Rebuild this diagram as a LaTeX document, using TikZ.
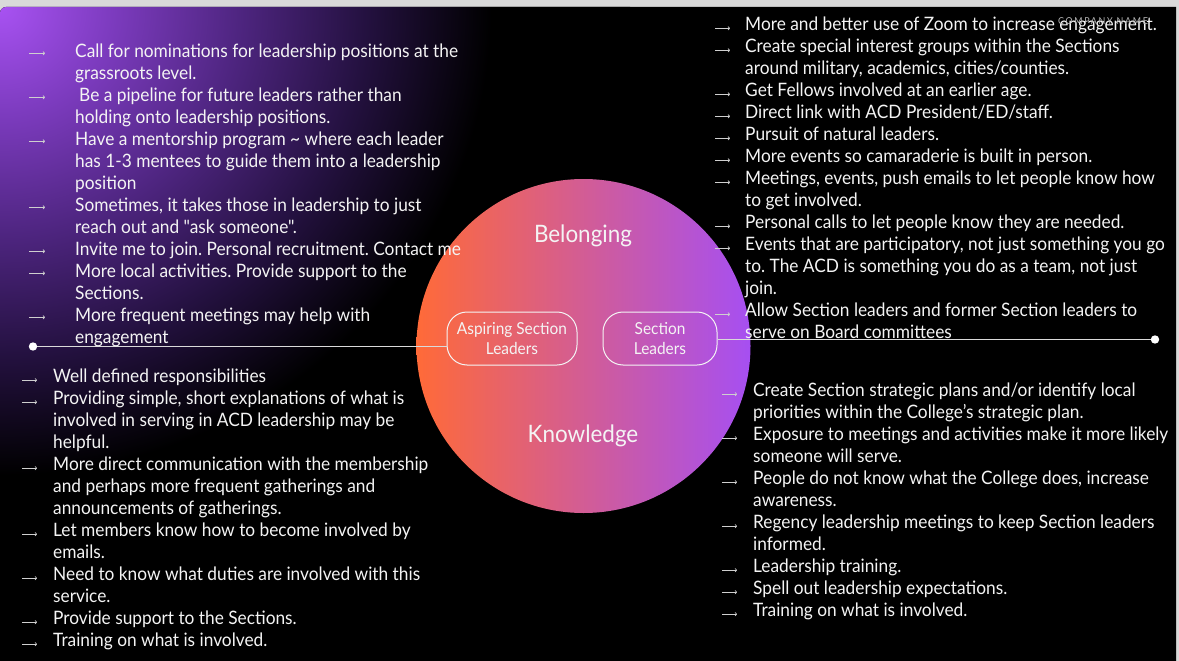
\documentclass[tikz,border=0pt]{standalone}
\usepackage{fontspec}
\setmainfont{Lato}[FakeStretch=0.935, Ligatures=TeXOff]
\frenchspacing
\usetikzlibrary{arrows.meta}
\definecolor{bggray}{HTML}{D9D9D9}
\definecolor{glowA}{HTML}{A852F2}
\definecolor{glowB}{HTML}{7C3BBE}
\definecolor{glowC}{HTML}{4E2580}
\definecolor{glowD}{HTML}{241140}
\definecolor{hubL}{HTML}{FF6A38}
\definecolor{hubR}{HTML}{A64FF2}
\definecolor{txtwhite}{HTML}{F4F4F4}
\definecolor{linegray}{HTML}{DADADA}
\definecolor{bulgray}{HTML}{CFCFCF}
\definecolor{cogray}{HTML}{B8B8B8}
\pgfdeclareradialshading{glow}{\pgfpoint{0bp}{0bp}}{color(0bp)=(glowA); color(4.5bp)=(glowB); color(9.5bp)=(glowC); color(14.5bp)=(glowD); color(19.5bp)=(black); color(50bp)=(black)}
\tikzset{
  txt/.style={text=txtwhite, font=\fontsize{18.5}{22}\selectfont, inner sep=0pt, anchor=base west},
  bul/.style={draw=bulgray, line width=0.7pt, -{To[length=2.2pt,width=4pt]}},
  theme/.style={text=txtwhite, font=\fontsize{24}{28}\selectfont, inner sep=0pt},
  rolebox/.style={draw=txtwhite, line width=1pt, rounded corners=20pt, minimum height=53pt, inner sep=2pt, align=center, text=txtwhite, font=\fontsize{16.5}{20}\selectfont},
  link/.style={draw=linegray, line width=1.4pt},
  dot/.style={fill=white}
}
\begin{document}
\begin{tikzpicture}[x=1pt,y=-1pt]
\useasboundingbox (0,0) rectangle (1179,661);
\fill[bggray] (0,0) rectangle (1179,661);
\begin{scope}
  \path[clip] (0,661) -- (0,13) to[out=90,in=180] (6,7) -- (1176,7) -- (1176,661) -- cycle;
  \fill[black] (0,0) rectangle (1179,661);
  \shade[shading=glow] (-630,-593) rectangle (630,607);
\end{scope}

% central circle
\node[circle, minimum size=334pt, inner sep=0pt, left color=hubL, right color=hubR, draw=none] (hub) at (583.5,346) {};
\node[theme] (bel) at (583,236) {Belonging};
\node[theme] (know) at (583,436) {Knowledge};
\node[rolebox, minimum width=130pt] (asp) at (512,338.5) {\raisebox{-2pt}{Aspiring Section}\\\raisebox{-2pt}{Leaders}};
\node[rolebox, minimum width=114pt] (sec) at (660,338.5) {\raisebox{-1pt}{Section}\\\raisebox{-1pt}{Leaders}};

\coordinate (dotL) at (33,346.5);
\coordinate (dotR) at (1155,339.5);
\draw[link] (asp.west |- dotL) -- (dotL);
\draw[link] (sec.east |- dotR) -- (dotR);
\fill[dot] (dotL) circle (4.2pt);
\fill[dot] (dotR) circle (4.2pt);

% top-left block
\foreach \yb/\myline [count=\i] in {
 57.3/{Call for nominations for leadership positions at the},
 79.3/{grassroots level.},
 101.3/{\hspace{4pt}Be a pipeline for future leaders rather than},
 123.3/{holding onto leadership positions.},
 145.3/{Have a mentorship program \textasciitilde{} where each leader},
 167.3/{has 1-3 mentees to guide them into a leadership},
 189.3/{position},
 211.3/{Sometimes, it takes those in leadership to just},
 233.3/{reach out and "ask someone".},
 255.3/{Invite me to join. Personal recruitment. Contact me},
 277.3/{More local activities. Provide support to the},
 299.3/{Sections.},
 321.3/{More frequent meetings may help with},
 343.3/{engagement}}
  \node[txt] (tl\i) at (75,\yb) {\myline};
\foreach \yb in {57.3,101.3,145.3,211.3,255.3,277.3,321.3}
  \draw[bul] (29,\yb-4) -- ++(16,0);

% bottom-left block
\foreach \yb/\myline [count=\i] in {
 382.7/{Well defined responsibilities},
 404.7/{Providing simple, short explanations of what is},
 426.7/{involved in serving in ACD leadership may be},
 448.7/{helpful.},
 470.7/{More direct communication with the membership},
 492.7/{and perhaps more frequent gatherings and},
 514.7/{announcements of gatherings.},
 536.7/{Let members know how to become involved by},
 558.7/{emails.},
 580.7/{Need to know what duties are involved with this},
 602.7/{service.},
 624.7/{Provide support to the Sections.},
 646.7/{Training on what is involved.}}
  \node[txt] (bl\i) at (53,\yb) {\myline};
\foreach \yb in {382.7,404.7,470.7,536.7,580.7,624.7,646.7}
  \draw[bul] (22,\yb-2.5) -- ++(15,0);

% top-right block
\foreach \yb/\myline [count=\i] in {
 30.3/{More and better use of Zoom to increase engagement.},
 52.3/{Create special interest groups within the Sections},
 74.3/{around military, academics, cities/counties.},
 96.3/{Get Fellows involved at an earlier age.},
 118.3/{Direct link with ACD President/ED/staff.},
 140.3/{Pursuit of natural leaders.},
 162.3/{More events so camaraderie is built in person.},
 184.3/{Meetings, events, push emails to let people know how},
 206.3/{to get involved.},
 228.3/{Personal calls to let people know they are needed.},
 250.3/{Events that are participatory, not just something you go},
 272.3/{to. The ACD is something you do as a team, not just},
 294.3/{join.},
 316.3/{Allow Section leaders and former Section leaders to},
 338.3/{serve on Board committees}}
  \node[txt] (tr\i) at (745,\yb) {\myline};
\foreach \yb in {30.3,52.3,96.3,118.3,140.3,162.3,184.3,228.3,250.3,316.3}
  \draw[bul] (715,\yb-2) -- ++(15,0);

% bottom-right block
\foreach \yb/\myline [count=\i] in {
 396.7/{Create Section strategic plans and/or identify local},
 418.7/{priorities within the College’s strategic plan.},
 440.7/{Exposure to meetings and activities make it more likely},
 462.7/{someone will serve.},
 484.7/{People do not know what the College does, increase},
 506.7/{awareness.},
 528.7/{Regency leadership meetings to keep Section leaders},
 550.7/{informed.},
 572.7/{Leadership training.},
 594.7/{Spell out leadership expectations.},
 616.7/{Training on what is involved.}}
  \node[txt] (br\i) at (753,\yb) {\myline};
\foreach \yb in {396.7,440.7,484.7,528.7,572.7,594.7,616.7}
  \draw[bul] (722,\yb-2.5) -- ++(15,0);

% company name
\node[text=cogray, font=\fontsize{9.5}{11}\selectfont\addfontfeature{LetterSpace=18}, inner sep=0pt] (co) at (1103,21) {COMPANY NAME};
\end{tikzpicture}
\end{document}
